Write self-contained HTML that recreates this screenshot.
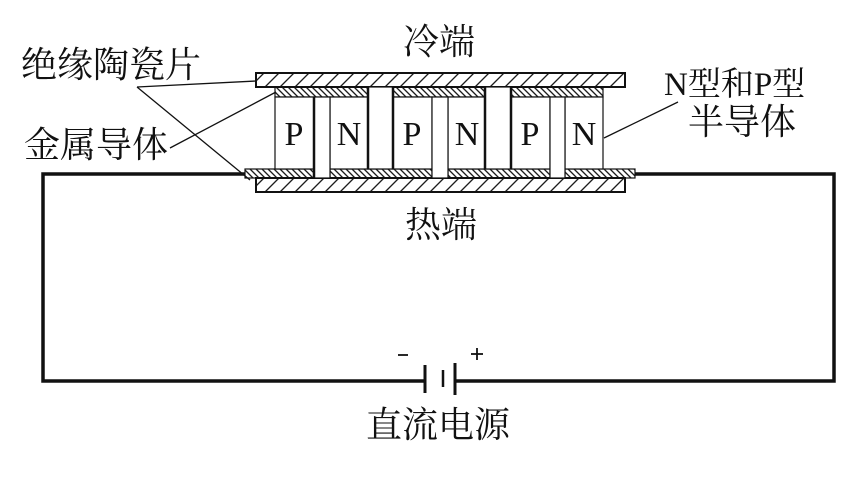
<!DOCTYPE html>
<html><head><meta charset="utf-8"><style>
html,body{margin:0;padding:0;background:#fff;}
svg{display:block;}
text{font-family:"Liberation Serif","Noto Serif CJK SC","Noto Sans CJK SC",serif;fill:#111;}
</style></head><body>
<svg width="867" height="490" viewBox="0 0 867 490" xmlns="http://www.w3.org/2000/svg">
<defs>
<pattern id="cer" width="15" height="14" patternUnits="userSpaceOnUse" patternTransform="skewX(-45)">
<line x1="7" y1="0" x2="7" y2="14" stroke="#111" stroke-width="1.8"/>
</pattern>
<pattern id="met" width="6" height="10" patternUnits="userSpaceOnUse" patternTransform="skewX(45)">
<line x1="3" y1="0" x2="3" y2="10" stroke="#111" stroke-width="1.8"/>
</pattern>
</defs>
<g stroke="#111" fill="none">
<polyline points="245,174 43,174 43,381 425,381" stroke-width="3.5"/>
<polyline points="635,174 834,174 834,381 455,381" stroke-width="3.5"/>
<line x1="425" y1="365" x2="425" y2="393" stroke-width="3"/>
<line x1="443" y1="370" x2="443" y2="387" stroke-width="2.5"/>
<line x1="455" y1="363" x2="455" y2="395" stroke-width="3"/>
<line x1="398" y1="355" x2="408" y2="355" stroke-width="1.8"/>
<line x1="471" y1="354" x2="483" y2="354" stroke-width="1.8"/>
<line x1="477" y1="348" x2="477" y2="360" stroke-width="1.8"/>
<rect x="256" y="73" width="369" height="14" fill="url(#cer)" stroke-width="2"/>
<rect x="256" y="178" width="369" height="14" fill="url(#cer)" stroke-width="2"/>
<rect x="275" y="87" width="93" height="10" fill="url(#met)" stroke-width="1.2"/>
<rect x="393" y="87" width="92" height="10" fill="url(#met)" stroke-width="1.2"/>
<rect x="511" y="87" width="92" height="10" fill="url(#met)" stroke-width="1.2"/>
<rect x="245" y="169" width="70" height="9" fill="url(#met)" stroke-width="1.2"/>
<rect x="330" y="169" width="102" height="9" fill="url(#met)" stroke-width="1.2"/>
<rect x="448" y="169" width="102" height="9" fill="url(#met)" stroke-width="1.2"/>
<rect x="565" y="169" width="70" height="9" fill="url(#met)" stroke-width="1.2"/>
<g stroke-width="1.2" fill="#fff">
<rect x="275" y="97" width="39" height="72"/>
<rect x="330" y="97" width="38" height="72"/>
<rect x="393" y="97" width="39" height="72"/>
<rect x="448" y="97" width="37" height="72"/>
<rect x="511" y="97" width="39" height="72"/>
<rect x="565" y="97" width="38" height="72"/>
<rect x="314" y="97" width="16" height="81"/>
<rect x="368" y="87" width="25" height="82"/>
<rect x="432" y="97" width="16" height="81"/>
<rect x="485" y="87" width="26" height="82"/>
<rect x="550" y="97" width="15" height="81"/>
</g>
<line x1="314" y1="97" x2="314" y2="178" stroke-width="2.5"/>
<line x1="368" y1="87" x2="368" y2="169" stroke-width="2.5"/>
<line x1="393" y1="87" x2="393" y2="169" stroke-width="2.5"/>
<line x1="485" y1="87" x2="485" y2="169" stroke-width="2.5"/>
<line x1="511" y1="87" x2="511" y2="169" stroke-width="2.5"/>
<g stroke-width="1.3">
<line x1="137" y1="87" x2="256" y2="81"/>
<line x1="137" y1="87" x2="250" y2="180"/>
<line x1="170" y1="148" x2="276" y2="92"/>
<line x1="604" y1="138" x2="678" y2="102"/>
</g>
</g>
<g font-size="34" text-anchor="middle">
<text x="294" y="145">P</text>
<text x="349" y="145">N</text>
<text x="412" y="145">P</text>
<text x="467" y="145">N</text>
<text x="530" y="145">P</text>
<text x="584" y="145">N</text>
</g>
<g font-size="36">
<text x="403" y="54">冷端</text>
<text x="405" y="237">热端</text>
<text x="366" y="437">直流电源</text>
<text x="21" y="77">绝缘陶瓷片</text>
<text x="24" y="157">金属导体</text>
<text x="664" y="95" font-size="33">N型和P型</text>
<text x="688" y="134">半导体</text>
</g>
</svg>
</body></html>
